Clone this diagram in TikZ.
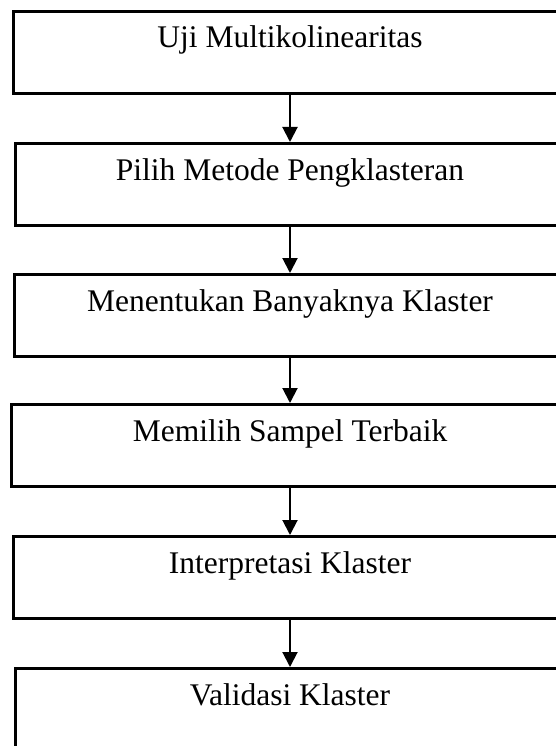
\documentclass[tikz,border=0pt]{standalone}
\usepackage{fontspec}
\setmainfont{Liberation Serif}
\usetikzlibrary{arrows.meta}
\begin{document}
\begin{tikzpicture}[x=1pt,y=-1pt,
  stepbox/.style={draw=black,line width=2.6pt,rectangle,minimum width=556pt,minimum height=82pt,inner sep=0pt,anchor=north west},
  steptext/.style={anchor=base,inner sep=0pt,font=\fontsize{31.5}{36}\selectfont},
  flow/.style={line width=2pt,-{Triangle[width=15pt,length=15pt]}}]
\useasboundingbox (0,0) rectangle (556,746);
\clip (0,0) rectangle (556,746);
\node[stepbox] (b1) at (12,10) {};
\node[stepbox] (b2) at (14,142) {};
\node[stepbox] (b3) at (13,273) {};
\node[stepbox] (b4) at (10,403) {};
\node[stepbox] (b5) at (12,535) {};
\node[stepbox] (b6) at (14,667) {};
\node[steptext] (t1) at (290,48) {Uji Multikolinearitas};
\node[steptext] (t2) at (290,180) {Pilih Metode Pengklasteran};
\node[steptext] (t3) at (290,311) {Menentukan Banyaknya Klaster};
\node[steptext] (t4) at (290,441) {Memilih Sampel Terbaik};
\node[steptext] (t5) at (290,573) {Interpretasi Klaster};
\node[steptext] (t6) at (290,705) {Validasi Klaster};
\draw[flow] (b1.south -| t1.base) -- (b2.north -| t1.base);
\draw[flow] (b2.south -| t1.base) -- (b3.north -| t1.base);
\draw[flow] (b3.south -| t1.base) -- (b4.north -| t1.base);
\draw[flow] (b4.south -| t1.base) -- (b5.north -| t1.base);
\draw[flow] (b5.south -| t1.base) -- (b6.north -| t1.base);
\end{tikzpicture}
\end{document}
